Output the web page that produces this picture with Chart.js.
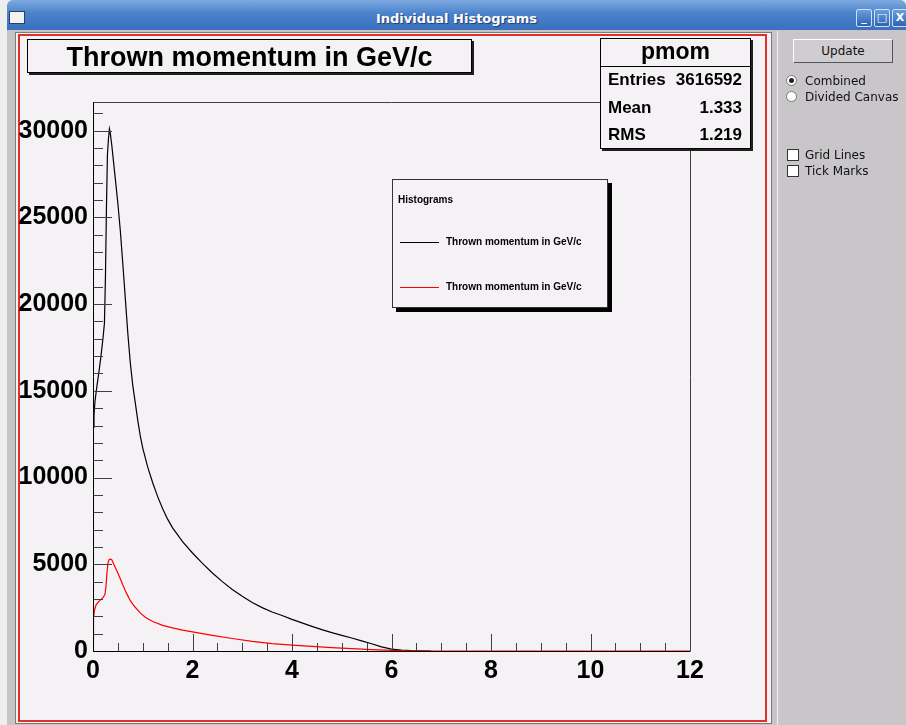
<!DOCTYPE html>
<html>
<head>
<meta charset="utf-8">
<title>Individual Histograms</title>
<script src="https://cdn.jsdelivr.net/npm/chart.js@4.4.1/dist/chart.umd.min.js"></script>
<style>
  body { margin: 0; width: 906px; height: 725px; position: relative; overflow: hidden; background: #eeeeee; font-family: "Liberation Sans", Arial, sans-serif; }
  .abs { position: absolute; }
  #window { left: 7px; top: 0; width: 899px; height: 725px; background: #c6c4c7; border-radius: 6px 6px 0 0; }
  #titlebar { left: 7px; top: 0; width: 899px; height: 30px; border-radius: 6px 6px 0 0;
    background: linear-gradient(#7eaae0, #4a82cc 45%, #3a70bd); }
  #wtitle { left: 7px; top: 0; width: 899px; height: 30px; text-align: center; color: #fff;
    font: bold 13px "DejaVu Sans", sans-serif; line-height: 37px; text-shadow: 1px 1px 1px #1d3d70; }
  #wicon { left: 9px; top: 11px; width: 14px; height: 11px; background: #f2f2f2; border: 1px solid #27406a; }
  .wbtn { top: 9px; width: 14px; height: 16px; background: linear-gradient(#6a9ee0, #2f62b0); border: 1px solid #cfe0f6;
    color: #fff; font: bold 11px "DejaVu Sans", sans-serif; line-height: 16px; text-align: center; border-radius: 2px; }
  #panel { left: 15px; top: 32px; width: 755px; height: 690px; border: 1px solid #7b7b7b; background: #f5f2f5; }
  #redframe { left: 18px; top: 34px; width: 745px; height: 684px; border: 2px solid #e0302c; box-sizing: content-box; }
  #sidebar { left: 777px; top: 31px; width: 129px; height: 694px; background: #c8c6c9; border-left: 1px solid #f0f0f0; }
  #chart { left: 0; top: 0; }
  .box { background: #f5f2f5; border: 1px solid #000; }
  #titlebox { left: 27px; top: 39px; width: 443px; height: 32px; box-shadow: 2px 2px 0 #202020;
    font-weight: bold; font-size: 27px; text-align: center; line-height: 34px; }
  #stats { left: 600px; top: 38px; width: 149px; height: 109px; box-shadow: 2px 2px 0 #202020; font-weight: bold; }
  #stats .hd { height: 27px; border-bottom: 1px solid #000; text-align: center; font-size: 23px; line-height: 24px; }
  #stats .row { position: absolute; left: 7px; right: 8px; font-size: 17px; height: 20px; line-height: 20px; }
  #stats .row span { float: right; }
  #legend { left: 392px; top: 179px; width: 214px; height: 127px; border-color: #333; box-shadow: 4px 4px 0 #000; font-weight: bold; font-size: 10px; }
  #legend .lt { position: absolute; left: 5px; top: 14px; }
  #legend .ln { position: absolute; left: 7px; width: 39px; height: 1px; }
  #legend .lx { position: absolute; left: 53px; }
  #update { left: 793px; top: 39px; width: 98px; height: 22px; background: #cfcdd0; border: 1px solid #fff;
    border-right-color: #555; border-bottom-color: #555; font: 12px "DejaVu Sans", sans-serif; line-height: 22px; text-align: center; color: #111; }
  .opt { font: 12px "DejaVu Sans", sans-serif; color: #111; left: 805px; }
  .radio { left: 786px; width: 9px; height: 9px; border-radius: 50%; background: #fff; border: 1px solid #777; }
  .check { left: 787px; width: 10px; height: 10px; background: #fff; border: 1px solid #333; }
</style>
</head>
<body>
<div id="window" class="abs"></div>
<div id="titlebar" class="abs"></div>
<div id="wtitle" class="abs">Individual Histograms</div>
<div id="wicon" class="abs"></div>
<div class="abs wbtn" style="left:856px">_</div>
<div class="abs wbtn" style="left:874px">□</div>
<div class="abs wbtn" style="left:892px">X</div>

<div id="panel" class="abs"></div>
<div id="redframe" class="abs"></div>
<div id="sidebar" class="abs"></div>

<canvas id="chart" class="abs" width="906" height="725"></canvas>

<div id="titlebox" class="abs box">Thrown momentum in GeV/c</div>
<div id="stats" class="abs box">
  <div class="hd">pmom</div>
  <div class="row" style="top:31px">Entries <span>3616592</span></div>
  <div class="row" style="top:59px">Mean <span>1.333</span></div>
  <div class="row" style="top:86px">RMS <span>1.219</span></div>
</div>
<div id="legend" class="abs box">
  <div class="lt">Histograms</div>
  <div class="ln" style="top:62px;background:#000"></div>
  <div class="lx" style="top:56px">Thrown momentum in GeV/c</div>
  <div class="ln" style="top:107px;background:#ff0000"></div>
  <div class="lx" style="top:101px">Thrown momentum in GeV/c</div>
</div>

<div id="update" class="abs">Update</div>
<div class="abs radio" style="top:75px"><div style="margin:2px;width:5px;height:5px;border-radius:50%;background:#222"></div></div>
<div class="abs opt" style="top:74px">Combined</div>
<div class="abs radio" style="top:91px"></div>
<div class="abs opt" style="top:90px">Divided Canvas</div>
<div class="abs check" style="top:149px"></div>
<div class="abs opt" style="top:148px">Grid Lines</div>
<div class="abs check" style="top:165px"></div>
<div class="abs opt" style="top:164px">Tick Marks</div>

<script>
// thrown momentum (GeV/c) and bin contents
const blackMomentum = [0, 0.02, 0.04, 0.08, 0.12, 0.16, 0.2, 0.23, 0.25, 0.27, 0.29, 0.31, 0.33, 0.35, 0.38, 0.42, 0.46,
  0.5, 0.55, 0.6, 0.65, 0.7, 0.75, 0.8, 0.85, 0.9, 0.95, 1.0, 1.1, 1.2, 1.3, 1.4, 1.5, 1.6, 1.8, 2.0, 2.2, 2.4, 2.6, 2.8,
  3.0, 3.2, 3.4, 3.6, 3.8, 4.0, 4.2, 4.4, 4.6, 4.8, 5.0, 5.2, 5.4, 5.6, 5.8, 6.0, 6.2, 6.4, 6.6, 6.8];
const blackCounts = [12900, 13600, 14400, 15300, 16100, 17000, 18000, 18900, 21500, 25500, 28600, 29500, 30100, 29800, 29100, 28000, 26900,
  25800, 24200, 22300, 20300, 18300, 16600, 15300, 14300, 13300, 12400, 11700, 10600, 9700, 8900, 8200, 7600, 7100, 6300, 5650, 5050, 4500, 4000, 3550,
  3150, 2800, 2500, 2250, 2050, 1820, 1620, 1420, 1230, 1060, 900, 750, 580, 420, 240, 110, 55, 25, 10, 0];

const redMomentum = [0, 0.01, 0.03, 0.06, 0.1, 0.15, 0.2, 0.24, 0.26, 0.28, 0.3, 0.32, 0.35, 0.38, 0.41, 0.45, 0.5, 0.55, 0.6, 0.67,
  0.75, 0.84, 0.95, 1.05, 1.2, 1.4, 1.6, 1.8, 2.0, 2.4, 2.8, 3.2, 3.6, 4.0, 4.4, 4.8, 5.2, 5.6, 6.0, 6.3, 6.5, 12];
const redCounts = [700, 1900, 2350, 2650, 2800, 2950, 3080, 3250, 3700, 4500, 5050, 5250, 5300, 5250, 5050, 4800, 4500, 4150, 3800, 3350,
  2900, 2550, 2200, 1950, 1700, 1480, 1330, 1200, 1100, 900, 720, 560, 430, 340, 270, 200, 140, 80, 35, 10, 0, 0];

const xTickValues = [0, 2, 4, 6, 8, 10, 12];
const yTickValues = [0, 5000, 10000, 15000, 20000, 25000, 30000];
const yMax = 31650;

function toPoints(xs, ys) {
  return xs.map((x, i) => ({ x: x, y: ys[i] }));
}

// ROOT style frame: ticks pointing inwards, grey top/right frame
const rootFrame = {
  id: 'rootFrame',
  afterDatasetsDraw(chart) {
    const { ctx, chartArea: a, scales: { x, y } } = chart;
    ctx.save();
    ctx.lineWidth = 1;
    ctx.strokeStyle = '#404040';
    ctx.beginPath();
    ctx.moveTo(a.left, a.top + 0.5);
    ctx.lineTo(a.right + 0.5, a.top + 0.5);
    ctx.lineTo(a.right + 0.5, a.bottom);
    ctx.stroke();

    ctx.beginPath();
    for (let v = 0; v <= y.max; v += 1000) {
      const py = Math.round(y.getPixelForValue(v)) + 0.5;
      const len = v % 5000 === 0 ? 19 : 10;
      ctx.moveTo(a.left, py);
      ctx.lineTo(a.left + len, py);
    }
    for (let v = 0; v <= x.max; v += 0.5) {
      const px = Math.round(x.getPixelForValue(v)) + 0.5;
      const len = v % 2 === 0 ? 17 : 8;
      ctx.moveTo(px, a.bottom);
      ctx.lineTo(px, a.bottom - len);
    }
    ctx.stroke();

    ctx.strokeStyle = '#000';
    ctx.beginPath();
    ctx.moveTo(a.left + 0.5, a.top);
    ctx.lineTo(a.left + 0.5, a.bottom + 0.5);
    ctx.lineTo(a.right + 0.5, a.bottom + 0.5);
    ctx.stroke();
    ctx.restore();
  }
};

const tickFont = { family: 'Liberation Sans', weight: 'bold', size: 25 };

new Chart(document.getElementById('chart'), {
  type: 'line',
  data: {
    datasets: [
      { label: 'Thrown momentum in GeV/c', data: toPoints(redMomentum, redCounts), borderColor: '#ff0000', borderWidth: 1.2, order: 0 },
      { label: 'Thrown momentum in GeV/c', data: toPoints(blackMomentum, blackCounts), borderColor: '#000000', borderWidth: 1.2, order: 1 }
    ]
  },
  options: {
    responsive: false,
    animation: false,
    elements: { point: { radius: 0 }, line: { tension: 0 } },
    layout: { padding: { left: 0, top: 102, right: 216, bottom: 0 } },
    plugins: { legend: { display: false }, tooltip: { enabled: false } },
    scales: {
      x: {
        type: 'linear', min: 0, max: 12,
        grid: { display: false }, border: { display: false },
        afterBuildTicks: s => { s.ticks = xTickValues.map(v => ({ value: v })); },
        afterFit: s => { s.height = 74; },
        ticks: { color: '#000', padding: -3, maxRotation: 0, font: tickFont, callback: v => String(v) }
      },
      y: {
        type: 'linear', min: 0, max: yMax,
        grid: { display: false }, border: { display: false },
        afterBuildTicks: s => { s.ticks = yTickValues.map(v => ({ value: v })); },
        afterFit: s => { s.width = 93; },
        ticks: { color: '#000', padding: -3, font: tickFont, callback: v => String(v) }
      }
    }
  },
  plugins: [rootFrame]
});
</script>
</body>
</html>
